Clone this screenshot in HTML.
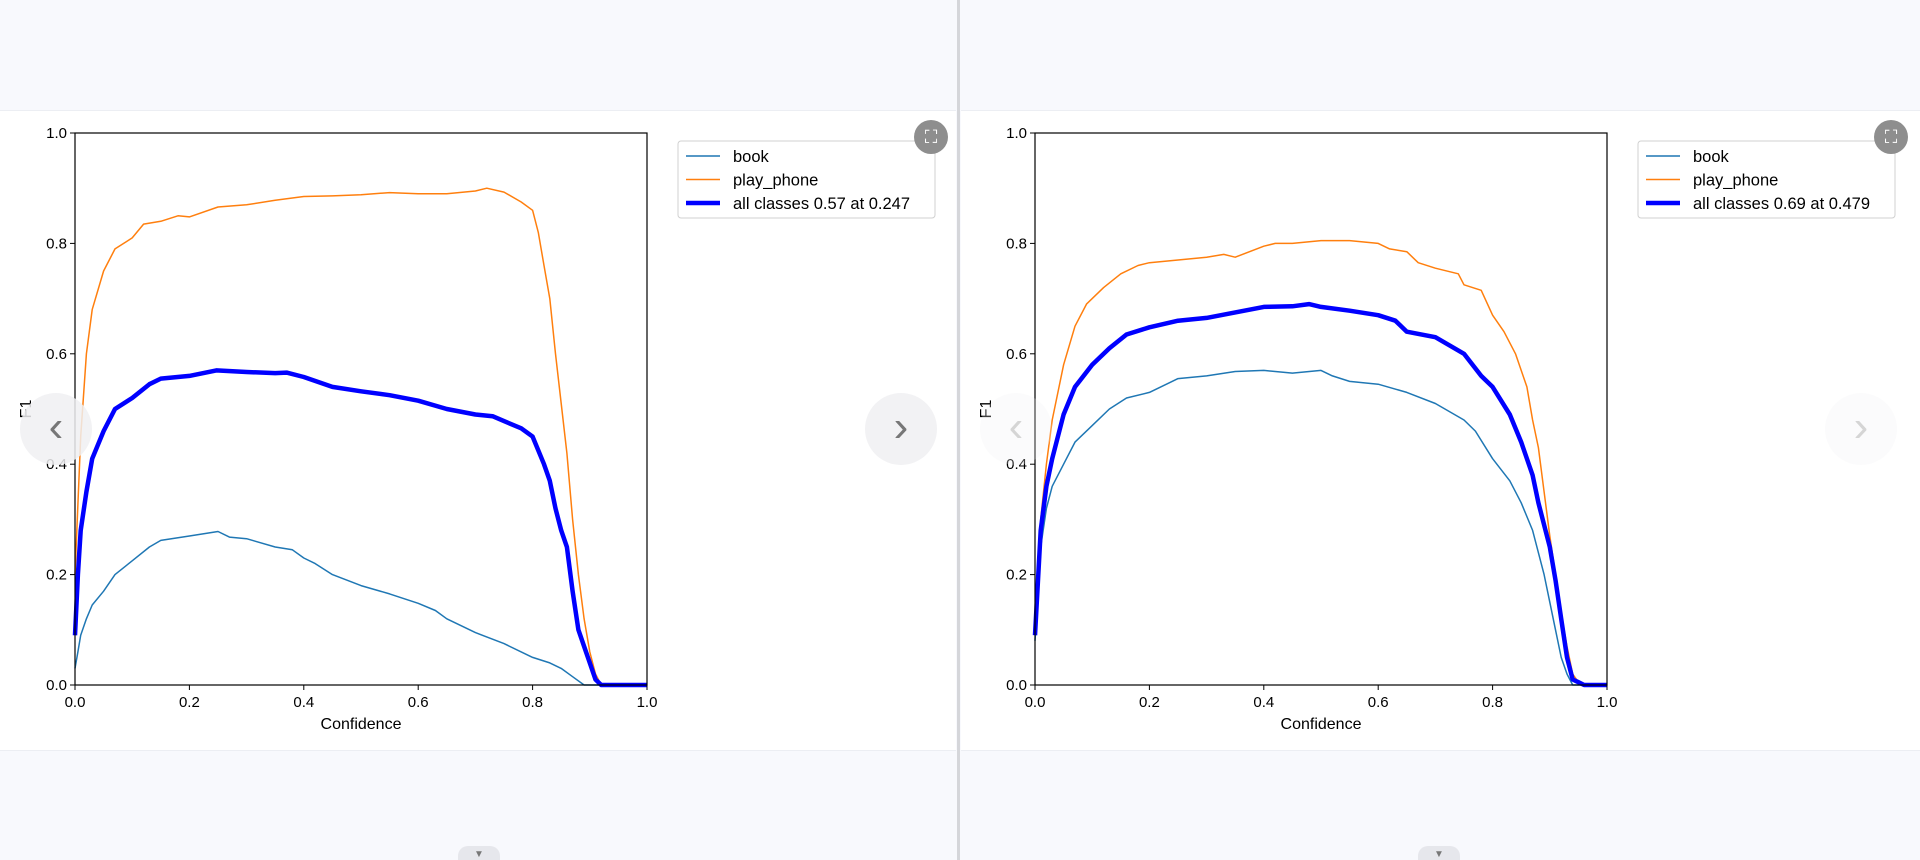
<!DOCTYPE html>
<html><head><meta charset="utf-8">
<style>
html,body{margin:0;padding:0;width:1920px;height:860px;overflow:hidden;background:#f8f9fd;font-family:"Liberation Sans",sans-serif;}
#page{position:relative;width:1920px;height:860px;}
.panel{position:absolute;top:110px;height:639px;background:#fff;border-top:1px solid #eceef3;border-bottom:1px solid #eceef3;}
.nav{position:absolute;width:72px;height:72px;border-radius:50%;background:rgba(240,240,242,0.85);color:#777;font-size:44px;line-height:68px;text-align:center;}
.zoomic{position:absolute;width:34px;height:34px;border-radius:50%;background:#8e8e8e;color:#fff;font-size:18px;line-height:34px;text-align:center;}
.tab{position:absolute;top:846px;width:42px;height:20px;border-radius:10px 10px 0 0;background:#e6e7ec;color:#777;font-size:10px;text-align:center;line-height:18px;}
</style></head><body>
<div id="page">
<div class="panel" style="left:0;width:956px"></div>
<div style="position:absolute;left:957px;top:0;width:3px;height:860px;background:#d5d6da"></div>
<div class="panel" style="left:961px;width:959px"></div>
<svg id="chart" width="1920" height="860" style="position:absolute;left:0;top:0"></svg>
<div class="zoomic" style="left:914px;top:120px">⛶</div>
<div class="zoomic" style="left:1874px;top:120px">⛶</div>
<div class="nav" style="left:20px;top:393px">‹</div>
<div class="nav" style="left:865px;top:393px">›</div>
<div class="nav" style="left:980px;top:393px;opacity:0.3">‹</div>
<div class="nav" style="left:1825px;top:393px;opacity:0.3">›</div>
<div class="tab" style="left:458px">▼</div>
<div class="tab" style="left:1418px">▼</div>
</div>
<script>
// Left chart data
const leftPhoneX=[0,0.01,0.02,0.03,0.05,0.07,0.1,0.12,0.15,0.18,0.2,0.25,0.3,0.35,0.4,0.45,0.5,0.55,0.6,0.65,0.7,0.72,0.75,0.78,0.8,0.81,0.82,0.83,0.84,0.85,0.86,0.87,0.88,0.89,0.9,0.91,0.92,1.0];
const leftPhoneY=[0.2,0.45,0.6,0.68,0.75,0.79,0.81,0.835,0.84,0.85,0.848,0.866,0.87,0.878,0.885,0.886,0.888,0.892,0.89,0.89,0.895,0.9,0.893,0.875,0.86,0.82,0.76,0.7,0.6,0.51,0.42,0.3,0.2,0.12,0.06,0.02,0,0];
const leftBookX=[0,0.005,0.01,0.02,0.03,0.05,0.07,0.1,0.13,0.15,0.2,0.25,0.27,0.3,0.35,0.38,0.4,0.42,0.45,0.5,0.55,0.6,0.63,0.65,0.7,0.75,0.8,0.83,0.85,0.87,0.89,1.0];
const leftBookY=[0.03,0.06,0.09,0.12,0.145,0.17,0.2,0.225,0.25,0.262,0.27,0.278,0.268,0.265,0.25,0.245,0.23,0.22,0.2,0.18,0.165,0.148,0.135,0.12,0.095,0.075,0.05,0.04,0.03,0.015,0,0];
const leftAllX=[0,0.005,0.01,0.02,0.03,0.05,0.07,0.1,0.13,0.15,0.2,0.247,0.3,0.35,0.37,0.4,0.45,0.5,0.55,0.6,0.65,0.7,0.73,0.75,0.78,0.8,0.82,0.83,0.84,0.85,0.86,0.87,0.88,0.89,0.9,0.91,0.92,1.0];
const leftAllY=[0.09,0.2,0.28,0.35,0.41,0.46,0.5,0.52,0.545,0.555,0.56,0.57,0.567,0.565,0.566,0.558,0.54,0.532,0.525,0.515,0.5,0.49,0.487,0.478,0.465,0.45,0.4,0.37,0.32,0.28,0.25,0.17,0.1,0.07,0.04,0.01,0,0];
// Right chart data
const rightPhoneX=[0,0.01,0.02,0.03,0.05,0.07,0.09,0.12,0.15,0.18,0.2,0.25,0.3,0.33,0.35,0.4,0.42,0.45,0.5,0.55,0.6,0.62,0.65,0.67,0.7,0.74,0.75,0.78,0.8,0.82,0.84,0.86,0.87,0.88,0.89,0.9,0.91,0.92,0.93,0.94,0.95,0.96,1.0];
const rightPhoneY=[0.1,0.3,0.4,0.48,0.58,0.65,0.69,0.72,0.745,0.76,0.765,0.77,0.775,0.78,0.775,0.795,0.8,0.8,0.805,0.805,0.8,0.79,0.785,0.765,0.755,0.745,0.725,0.715,0.67,0.64,0.6,0.54,0.48,0.43,0.35,0.27,0.2,0.13,0.07,0.02,0.005,0,0];
const rightBookX=[0,0.01,0.02,0.03,0.05,0.07,0.1,0.13,0.16,0.2,0.25,0.3,0.35,0.4,0.45,0.5,0.52,0.55,0.6,0.65,0.7,0.75,0.77,0.8,0.83,0.85,0.87,0.89,0.9,0.91,0.92,0.93,0.94,1.0];
const rightBookY=[0.08,0.25,0.32,0.36,0.4,0.44,0.47,0.5,0.52,0.53,0.555,0.56,0.568,0.57,0.565,0.57,0.56,0.55,0.545,0.53,0.51,0.48,0.46,0.41,0.37,0.33,0.28,0.2,0.15,0.1,0.05,0.02,0,0];
const rightAllX=[0,0.01,0.02,0.03,0.05,0.07,0.1,0.13,0.16,0.2,0.25,0.3,0.35,0.4,0.45,0.479,0.5,0.55,0.6,0.63,0.65,0.7,0.75,0.78,0.8,0.83,0.85,0.87,0.88,0.9,0.91,0.92,0.93,0.94,0.95,0.96,1.0];
const rightAllY=[0.09,0.28,0.36,0.41,0.49,0.54,0.58,0.61,0.635,0.648,0.66,0.665,0.675,0.685,0.686,0.69,0.685,0.678,0.67,0.66,0.64,0.63,0.6,0.56,0.54,0.49,0.44,0.38,0.33,0.25,0.19,0.12,0.05,0.01,0.005,0,0];
const tickLabels=["0.0","0.2","0.4","0.6","0.8","1.0"];
const tickValues=[0,0.2,0.4,0.6,0.8,1.0];

const NS="http://www.w3.org/2000/svg";
const svg=document.getElementById('chart');
function mk(tag,attrs,parent){const e=document.createElementNS(NS,tag);for(const k in attrs)e.setAttribute(k,attrs[k]);(parent||svg).appendChild(e);return e;}
function drawChart(prefix,x0,x1,y0,y1,series,legendX,legendLabel){
  const g=mk('g',{});
  
  
  const sx=v=>x0+v*(x1-x0), sy=v=>y1-v*(y1-y0);
  series.forEach(s=>{
    const pts=s.x.map((v,i)=>sx(v).toFixed(1)+','+sy(s.y[i]).toFixed(1)).join(' ');
    const p=mk('polyline',{points:pts,fill:'none',stroke:s.color,'stroke-width':s.w,'stroke-linejoin':'round'},g);
    
    
  });
  const frame=mk('rect',{x:x0,y:y0,width:x1-x0,height:y1-y0,fill:'none',stroke:'#000','stroke-width':1.2},g);
  
  
  tickValues.forEach((v,i)=>{
    mk('line',{x1:sx(v),x2:sx(v),y1:y1,y2:y1+5,stroke:'#000'},g);
    const tx=mk('text',{x:sx(v),y:y1+22,'text-anchor':'middle','font-size':15,fill:'#000'},g);
    tx.textContent=tickLabels[i];
    
    
    mk('line',{x1:x0-5,x2:x0,y1:sy(v),y2:sy(v),stroke:'#000'},g);
    const ty=mk('text',{x:x0-8,y:sy(v)+5,'text-anchor':'end','font-size':15,fill:'#000'},g);
    ty.textContent=tickLabels[i];
    
    
  });
  const xt=mk('text',{x:(x0+x1)/2,y:y1+44,'text-anchor':'middle','font-size':16,fill:'#000'},g);
  xt.textContent='Confidence';
  
  
  const yt=mk('text',{x:0,y:0,'text-anchor':'middle','font-size':16,fill:'#000',transform:`translate(${x0-44},${(y0+y1)/2}) rotate(-90)`},g);
  yt.textContent='F1';
  
  
  const lg=mk('g',{},g);
  
  
  mk('rect',{x:legendX,y:141,width:257,height:77,rx:3,fill:'#fff',stroke:'#d0d0d0'},lg);
  const names=['book','play_phone',legendLabel];
  series.forEach((s,i)=>{
    const yy=156+i*23.5;
    mk('line',{x1:legendX+8,x2:legendX+42,y1:yy,y2:yy,stroke:s.color,'stroke-width':s.w},lg);
    const t=mk('text',{x:legendX+55,y:yy+6,'font-size':16.5,fill:'#000'},lg);
    t.textContent=names[i];
    
    
  });
}
drawChart('left',75,647,133,685,[
  {name:'book',x:leftBookX,y:leftBookY,color:'#1f77b4',w:1.5},
  {name:'play-phone',x:leftPhoneX,y:leftPhoneY,color:'#ff7f0e',w:1.5},
  {name:'all-classes',x:leftAllX,y:leftAllY,color:'#0000ff',w:4.5}],678,'all classes 0.57 at 0.247');
drawChart('right',1035,1607,133,685,[
  {name:'book',x:rightBookX,y:rightBookY,color:'#1f77b4',w:1.5},
  {name:'play-phone',x:rightPhoneX,y:rightPhoneY,color:'#ff7f0e',w:1.5},
  {name:'all-classes',x:rightAllX,y:rightAllY,color:'#0000ff',w:4.5}],1638,'all classes 0.69 at 0.479');
</script>
</body></html>
